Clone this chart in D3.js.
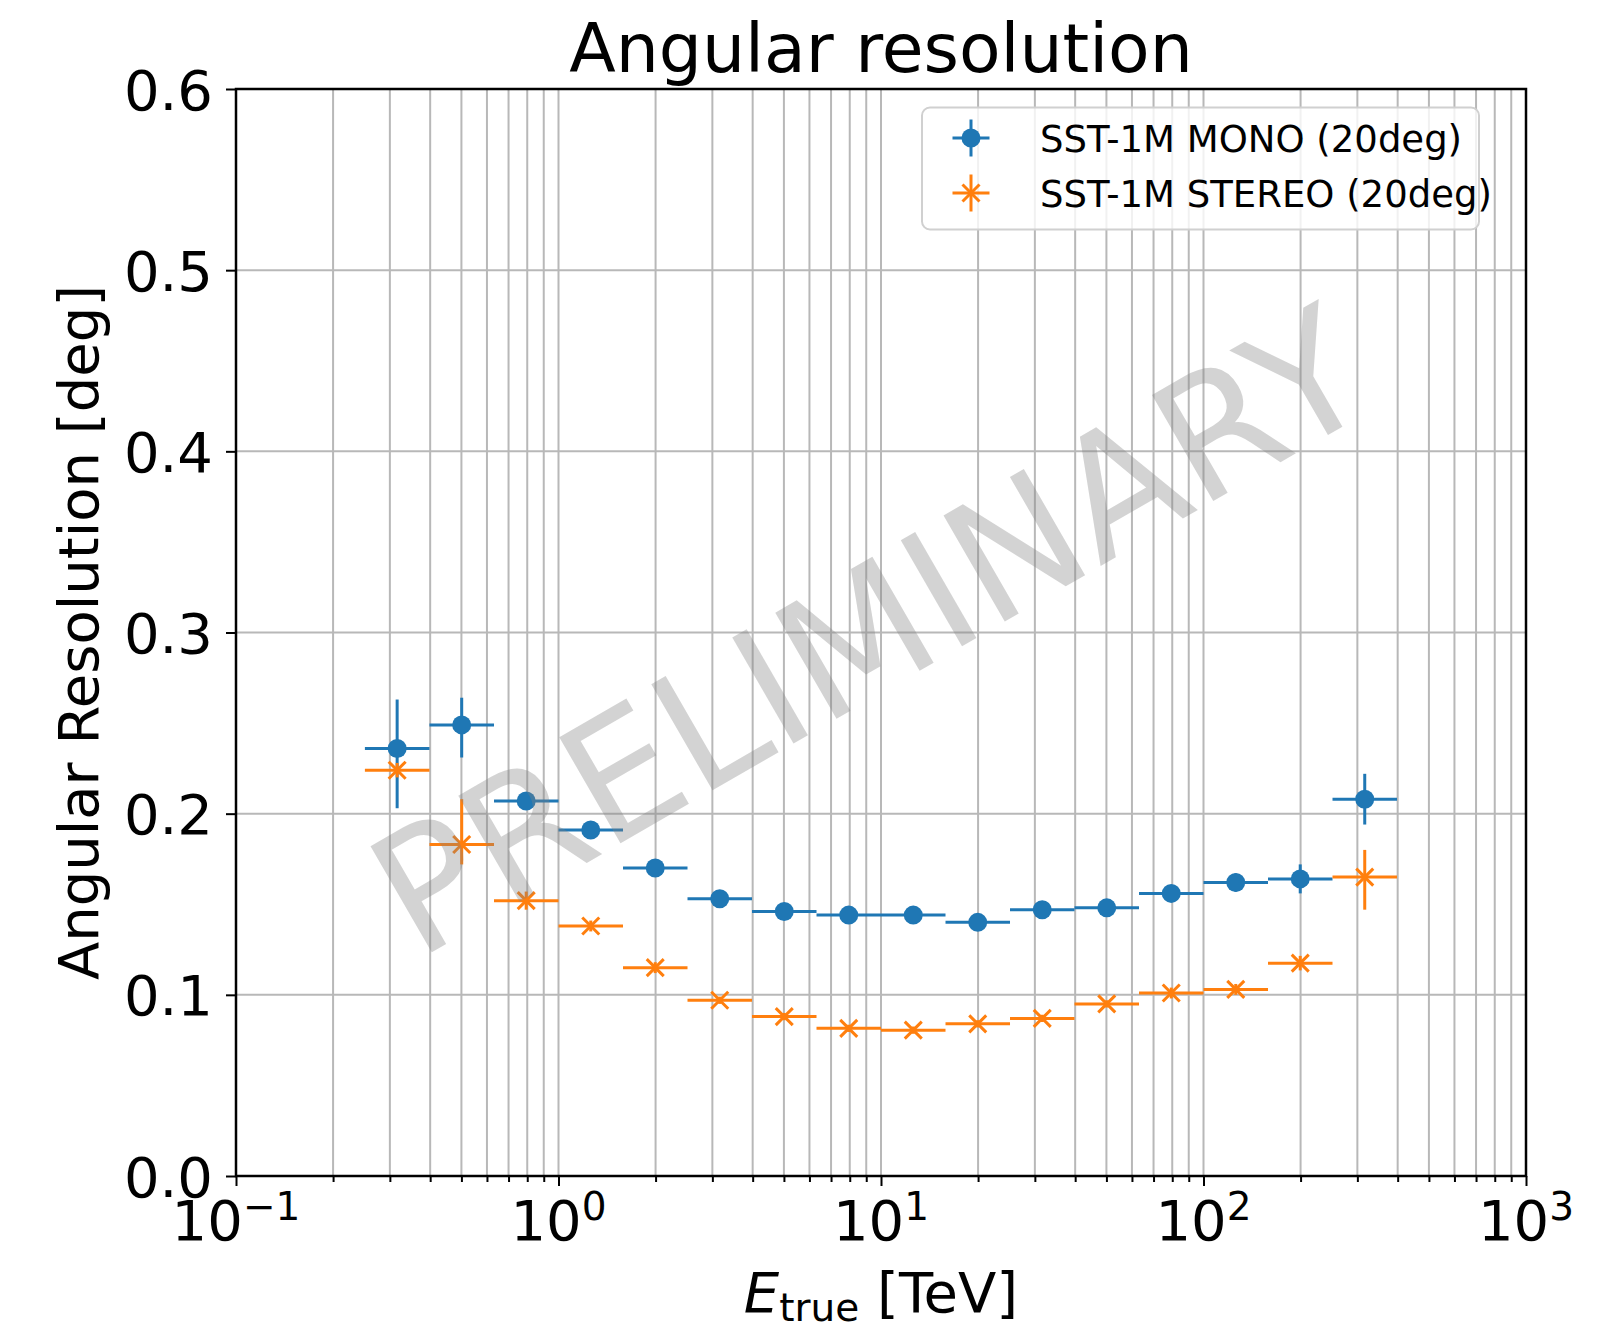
<!DOCTYPE html>
<html>
<head>
<meta charset="utf-8">
<script src="https://cdn.jsdelivr.net/npm/d3@7"></script>
<style>
  html, body { margin: 0; padding: 0; background: #fff; }
  svg { display: block; font-family: "DejaVu Sans", sans-serif; }
</style>
</head>
<body>
<svg id="chart" width="1620" height="1330"></svg>
<script>
// ---- data ----
const energyCenter = [0.316, 0.501, 0.794, 1.259, 1.995, 3.162, 5.012, 7.943, 12.59, 19.95, 31.62, 50.12, 79.43, 125.9, 199.5, 316.2];
const energyLow    = [0.251, 0.398, 0.631, 1.0, 1.585, 2.512, 3.981, 6.31, 10.0, 15.85, 25.12, 39.81, 63.1, 100, 158.5, 251.2];
const energyHigh   = [0.398, 0.631, 1.0, 1.585, 2.512, 3.981, 6.31, 10.0, 15.85, 25.12, 39.81, 63.1, 100, 158.5, 251.2, 398.1];

const monoRes     = [0.236, 0.249, 0.207, 0.191, 0.170, 0.153, 0.146, 0.144, 0.144, 0.140, 0.147, 0.148, 0.156, 0.162, 0.164, 0.208];
const monoErrLow  = [0.033, 0.018, 0.004, 0.003, 0.003, 0.003, 0.002, 0.002, 0.002, 0.002, 0.002, 0.002, 0.003, 0.005, 0.008, 0.014];
const monoErrHigh = [0.027, 0.015, 0.004, 0.003, 0.003, 0.003, 0.002, 0.002, 0.002, 0.002, 0.002, 0.002, 0.003, 0.005, 0.008, 0.014];

const stereoRes     = [0.224, 0.183, 0.152, 0.138, 0.115, 0.097, 0.088, 0.0815, 0.0805, 0.084, 0.087, 0.095, 0.101, 0.103, 0.1175, 0.165];
const stereoErrLow  = [0.004, 0.011, 0.005, 0.003, 0.003, 0.002, 0.002, 0.002, 0.002, 0.002, 0.002, 0.002, 0.003, 0.003, 0.004, 0.018];
const stereoErrHigh = [0.004, 0.025, 0.005, 0.003, 0.003, 0.002, 0.002, 0.002, 0.002, 0.002, 0.002, 0.002, 0.003, 0.003, 0.004, 0.015];

const seriesNames = ["SST-1M MONO (20deg)", "SST-1M STEREO (20deg)"];
const seriesColors = ["#1f77b4", "#ff7f0e"];
const yTicks = [0.0, 0.1, 0.2, 0.3, 0.4, 0.5, 0.6];
const xMajorExp = [-1, 0, 1, 2, 3];

// ---- layout ----
const L = 236, R = 1526, T = 89, B = 1176;
const svg = d3.select("#chart");
const x = d3.scaleLog().domain([0.1, 1000]).range([L, R]);
const y = d3.scaleLinear().domain([0, 0.6]).range([B, T]);

const xMinor = [];
for (let e = -1; e < 3; e++) for (let m = 2; m <= 9; m++) xMinor.push(m * Math.pow(10, e));
const xMajor = xMajorExp.map(e => Math.pow(10, e));

// grid
const grid = svg.append("g").attr("stroke", "#b8b8b8").attr("stroke-width", 2);
grid.selectAll("line.gx").data(xMajor.concat(xMinor)).join("line")
  .attr("x1", d => x(d)).attr("x2", d => x(d)).attr("y1", T).attr("y2", B);
grid.selectAll("line.gy").data(yTicks).join("line")
  .attr("x1", L).attr("x2", R).attr("y1", d => y(d)).attr("y2", d => y(d));

// axes
const xAxis = svg.append("g").attr("transform", `translate(0,${B})`)
  .call(d3.axisBottom(x).tickValues(xMajor).tickSize(10).tickFormat(""));
const xAxisMinor = svg.append("g").attr("transform", `translate(0,${B})`)
  .call(d3.axisBottom(x).tickValues(xMinor).tickSize(6).tickFormat(""));
const yAxis = svg.append("g").attr("transform", `translate(${L},0)`)
  .call(d3.axisLeft(y).tickValues(yTicks).tickSize(10).tickFormat(""));
[xAxis, xAxisMinor, yAxis].forEach(g => {
  g.select(".domain").remove();
  g.selectAll(".tick line").attr("stroke", "#000").attr("stroke-width", 2);
});

// y tick labels
svg.append("g").selectAll("text").data(yTicks).join("text")
  .attr("x", 213).attr("y", d => y(d) + 20.5)
  .attr("text-anchor", "end").attr("font-size", 56).attr("fill", "#000")
  .text(d => d.toFixed(1));

// x tick labels
const xl = svg.append("g").selectAll("text").data(xMajorExp).join("text")
  .attr("x", d => x(Math.pow(10, d))).attr("y", 1240)
  .attr("text-anchor", "middle").attr("font-size", 56).attr("fill", "#000");
xl.append("tspan").text("10");
xl.append("tspan").attr("font-size", 39).attr("dy", -20).text(d => (d < 0 ? "\u2212" : "") + Math.abs(d));

// series
function drawSeries(vals, lo, hi, color, marker) {
  const g = svg.append("g").attr("stroke", color).attr("stroke-width", 3).attr("fill", color);
  vals.forEach((v, i) => {
    const cx = x(energyCenter[i]), cy = y(v);
    g.append("line").attr("x1", x(energyLow[i])).attr("x2", x(energyHigh[i])).attr("y1", cy).attr("y2", cy);
    g.append("line").attr("x1", cx).attr("x2", cx).attr("y1", y(v - lo[i])).attr("y2", y(v + hi[i]));
    marker(g, cx, cy);
  });
}
const circleMarker = (g, cx, cy) => g.append("circle").attr("cx", cx).attr("cy", cy).attr("r", 9.5).attr("stroke", "none");
const xMarker = (g, cx, cy) => {
  const s = 8.5;
  g.append("path").attr("d", `M${cx - s},${cy - s}L${cx + s},${cy + s}M${cx - s},${cy + s}L${cx + s},${cy - s}`).attr("fill", "none");
};
drawSeries(monoRes, monoErrLow, monoErrHigh, seriesColors[0], circleMarker);
drawSeries(stereoRes, stereoErrLow, stereoErrHigh, seriesColors[1], xMarker);

// spines
svg.append("rect").attr("x", L).attr("y", T).attr("width", R - L).attr("height", B - T)
  .attr("fill", "none").attr("stroke", "#000").attr("stroke-width", 2.5);

// watermark
svg.append("text").attr("transform", "translate(868,630) rotate(-30)")
  .attr("text-anchor", "middle").attr("y", 61).attr("font-size", 168)
  .attr("fill", "#808080").attr("fill-opacity", 0.35).text("PRELIMINARY");

// legend
const lg = svg.append("g");
lg.append("rect").attr("x", 922).attr("y", 107.5).attr("width", 557).attr("height", 122).attr("rx", 8)
  .attr("fill", "#fff").attr("fill-opacity", 0.8).attr("stroke", "#d0d0d0").attr("stroke-width", 2);
const legY = [138, 193];
seriesNames.forEach((name, i) => {
  const g = lg.append("g").attr("stroke", seriesColors[i]).attr("stroke-width", 3).attr("fill", seriesColors[i]);
  const cx = 971, cy = legY[i];
  g.append("line").attr("x1", cx - 18.5).attr("x2", cx + 18.5).attr("y1", cy).attr("y2", cy);
  g.append("line").attr("x1", cx).attr("x2", cx).attr("y1", cy - 18.5).attr("y2", cy + 18.5);
  (i === 0 ? circleMarker : xMarker)(g, cx, cy);
  lg.append("text").attr("x", 1040).attr("y", cy + 13.5).attr("font-size", 37).attr("fill", "#000").text(name);
});

// title and labels
svg.append("text").attr("x", (L + R) / 2).attr("y", 72).attr("text-anchor", "middle")
  .attr("font-size", 68).attr("fill", "#000").text("Angular resolution");

const xlab = svg.append("text").attr("x", (L + R) / 2).attr("y", 1312).attr("text-anchor", "middle")
  .attr("font-size", 56).attr("fill", "#000");
xlab.append("tspan").attr("font-style", "italic").text("E");
xlab.append("tspan").attr("font-size", 39).attr("dy", 9).text("true");
xlab.append("tspan").attr("dy", -9).text(" [TeV]");

svg.append("text").attr("transform", `translate(98,${(T + B) / 2}) rotate(-90)`)
  .attr("text-anchor", "middle").attr("font-size", 56).attr("fill", "#000")
  .text("Angular Resolution [deg]");
</script>
</body>
</html>
